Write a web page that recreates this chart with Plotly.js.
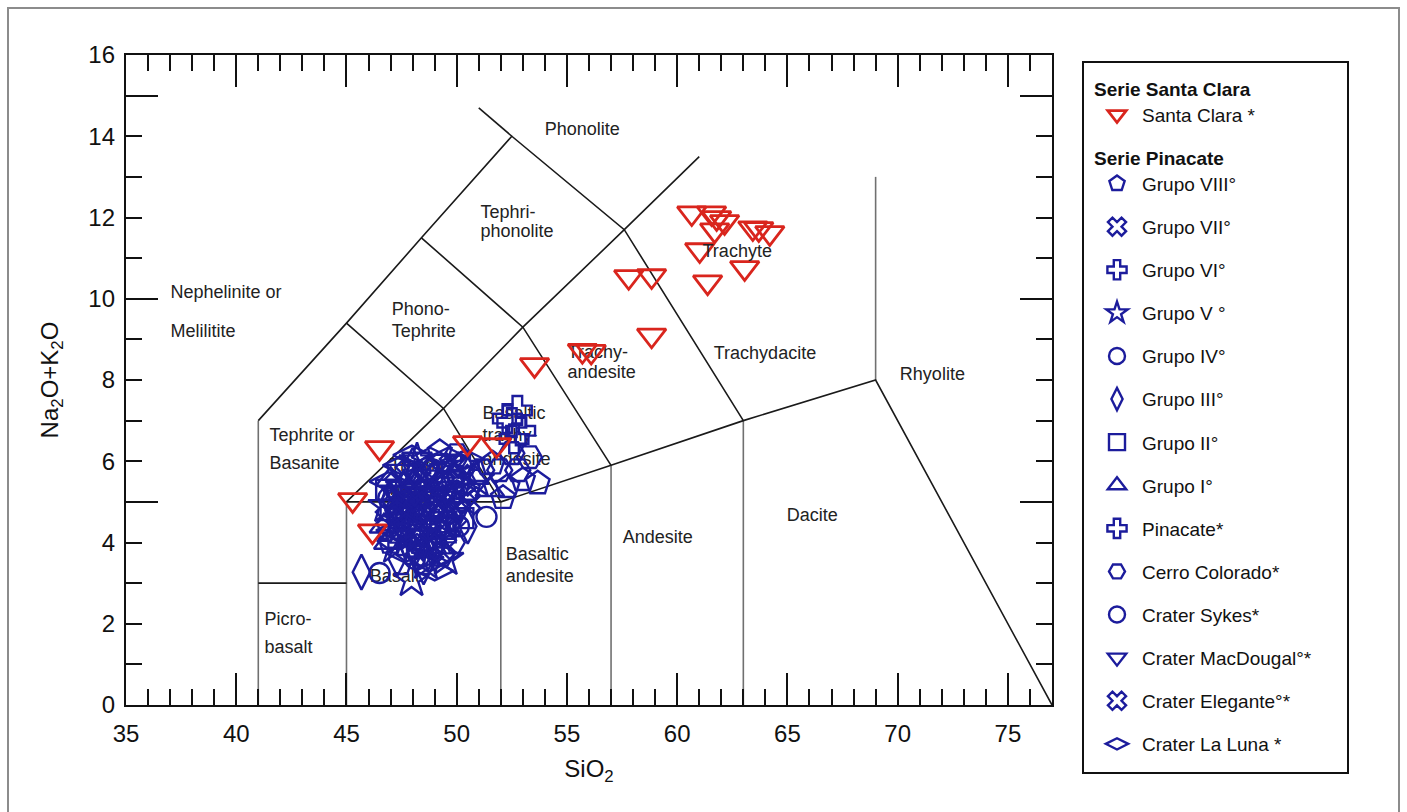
<!DOCTYPE html>
<html><head><meta charset="utf-8">
<script src="https://cdn.plot.ly/plotly-3.0.1.min.js"></script>
<style>
html,body{margin:0;padding:0;background:#fff;}
#chart{width:1407px;height:812px;}
#frame{position:absolute;left:7px;top:7px;width:1393px;height:808px;border:2px solid #8c8c8c;border-bottom:none;box-sizing:border-box;pointer-events:none;}
</style>
</head><body>
<div id="chart"></div><div id="frame"></div>
<script>
// ---- TAS field boundaries (SiO2, Na2O+K2O), null separates segments ----
const darkBoundX = [41,45,48.4,52.5,57.6,63, null, 52.5,51.0, null, 41,45, null, 45,49.4,52, null, 48.4,53,57, null,
                    45,49.4,53,57.6,61, null, 52,57,63,69,77, null, 45,52];
const darkBoundY = [7,9.4,11.5,14,11.7,7, null, 14,14.7, null, 3,3, null, 9.4,7.3,5, null, 11.5,9.3,5.9, null,
                    5,7.3,9.3,11.7,13.5, null, 5,5.9,7,8,0, null, 5,5];
const greyBoundX = [41,41, null, 45,45, null, 52,52, null, 57,57, null, 63,63, null, 69,69];
const greyBoundY = [0,7, null, 0,5, null, 0,5, null, 0,5.9, null, 0,7, null, 8,13];

// ---- field names ----
const fieldText = ["Nephelinite or","Melilitite","Phonolite","Tephri-","phonolite","Phono-","Tephrite",
  "Trachy-","andesite","Trachydacite","Rhyolite","Tephrite or","Basanite","Basaltic","trachy-","andesite",
  "Trachy-","basalt","Dacite","Andesite","Basaltic","andesite","Picro-","basalt","Basalt"];
const fieldX = [37.02,37.02,53.99,51.08,51.08,47.05,47.05,55.03,55.03,61.66,70.10,41.51,41.51,51.17,51.17,51.17,
  46.96,46.96,64.97,57.53,52.22,52.22,41.28,41.28,46.05];
const fieldY = [10.14,9.16,14.13,12.11,11.64,9.70,9.16,8.66,8.17,8.64,8.12,6.60,5.91,7.16,6.60,6.03,
  5.86,5.29,4.63,4.11,3.67,3.15,2.07,1.40,3.13];
const topFieldText = ["Trachyte"];
const topFieldX = [61.15];
const topFieldY = [11.15];

// ---- Serie Santa Clara ----
const santaClaraSiO2 = [45.28,46.5,46.18,50.49,51.81,53.53,55.7,56.1,58.84,57.8,58.84,
  60.66,61.56,61.79,62.15,61.7,63.43,64.2,63.7,61.02,61.38,63.06];
const santaClaraAlk  = [5.05,6.33,4.28,6.45,6.40,8.37,8.72,8.70,9.10,10.54,10.56,
  12.11,12.11,11.99,11.89,11.69,11.74,11.62,11.72,11.20,10.41,10.76];

// ---- Serie Pinacate ----
const g8SiO2 = [52.3,53.67,53.0,51.63,49.23,50.5,49.6,48.2,47.3,48.6,52.1,50.0,48.9,47.7,47.0,49.9];
const g8Alk  = [5.37,5.46,5.54,5.95,6.23,5.3,4.4,3.9,4.7,5.8,5.1,4.9,4.8,4.4,4.0,5.6];
const g7SiO2 = [47.4,48.4,49.3,47.8,50.2,46.9,48.9,49.8,48.0,49.6,47.3,48.7,50.3];
const g7Alk  = [5.0,5.4,4.9,5.7,5.6,4.6,4.3,5.9,4.6,4.4,5.4,3.9,5.2];
const g6SiO2 = [47.6,48.1,49.0,47.1,49.7,48.6,50.4,48.4,49.3,47.9,50.0];
const g6Alk  = [4.6,5.0,5.6,4.2,5.1,4.7,5.9,5.2,4.2,3.8,4.9];
const g5SiO2 = [47.95,47.2,48.3,49.2,47.6,50.9,46.8,49.5,48.6,47.3,49.0,48.2];
const g5Alk  = [3.08,3.9,4.2,4.6,5.35,5.54,4.9,3.6,3.5,4.5,5.2,6.0];
const g4SiO2 = [51.35,48.0,47.4,49.4,48.7,50.1,47.7,48.9,46.9,50.2];
const g4Alk  = [4.63,4.8,4.3,5.5,5.0,4.4,4.9,5.8,5.1,5.9];
const g3SiO2 = [45.68,48.7,49.1,47.9,48.3,49.8,47.0,48.5,48.0,49.5,47.3,50.5];
const g3Alk  = [3.27,3.75,4.0,4.55,5.5,4.7,5.05,3.4,5.9,5.3,3.6,4.4];
const g2SiO2 = [48.2,47.4,48.8,49.5,47.9,50.3,46.8,48.5,49.1,47.6,47.0,49.8];
const g2Alk  = [4.05,4.6,4.4,4.25,5.2,4.6,5.3,4.9,4.5,5.0,4.8,5.5];
const g1SiO2 = [47.0,48.4,49.7,48.9,47.6,50.8,51.5,46.7,48.1,49.4,48.6,46.9];
const g1Alk  = [5.55,4.6,5.75,5.3,4.15,5.6,5.3,4.4,5.5,4.8,3.9,4.0];
const pinacateSiO2 = [52.75,52.5,52.3,52.9,52.6];
const pinacateAlk  = [7.25,6.95,7.05,6.75,6.55];
const cerroSiO2 = [52.77,51.95,51.13,50.0,53.3,52.5,48.9,49.3,49.8,48.3];
const cerroAlk  = [5.78,5.78,5.78,6.15,6.1,6.2,3.9,3.7,4.0,3.7];
const sykesSiO2 = [46.5,48.1,47.3,49.9];
const sykesAlk  = [3.25,3.6,4.85,5.2];
const macdougalSiO2 = [48.77,48.09,48.77,47.5,49.4,48.2];
const macdougalAlk  = [5.61,5.22,5.17,5.75,6.0,6.05];
const eleganteSiO2 = [47.9,48.5,47.2,49.1,48.0,50.5,48.6,49.9,47.6,49.4,48.3];
const eleganteAlk  = [4.9,4.1,5.15,5.1,4.35,5.0,5.6,4.7,4.8,3.9,4.8];
const lunaSiO2 = [47.97,49.6,47.5,50.4,48.77,47.64,46.9,49.3,48.8,49.0,47.2,50.0];
const lunaAlk  = [6.15,6.1,5.9,6.05,3.52,3.74,5.5,3.7,6.1,3.3,4.3,5.3];

const pinacateNames = ["Grupo VIII°","Grupo VII°","Grupo VI°","Grupo V °","Grupo IV°","Grupo III°","Grupo II°","Grupo I°",
  "Pinacate*","Cerro Colorado*","Crater Sykes*","Crater MacDougal°*","Crater Elegante°*","Crater La Luna *"];
const pinacateX = [g8SiO2,g7SiO2,g6SiO2,g5SiO2,g4SiO2,g3SiO2,g2SiO2,g1SiO2,pinacateSiO2,cerroSiO2,sykesSiO2,macdougalSiO2,eleganteSiO2,lunaSiO2];
const pinacateY = [g8Alk,g7Alk,g6Alk,g5Alk,g4Alk,g3Alk,g2Alk,g1Alk,pinacateAlk,cerroAlk,sykesAlk,macdougalAlk,eleganteAlk,lunaAlk];
const pinacateSymbols = ["pentagon","x","cross","star","circle","diamond-tall","square","triangle-up",
  "cross","hexagon2","circle","triangle-down","x","diamond-wide"];
const pinacateSizes = [25,22,22,27,20,25,20,25,24,25,20,26,22,27];
const drawOrder = [13,12,10,9,8,7,6,5,4,3,2,1,0,11];

const BLUE = "#1c1c9c", RED = "#d9251d";
const FONT = "Liberation Sans, Arial, sans-serif";
const CLEAR = "rgba(255,255,255,0)";

const data = [];
data.push({x: greyBoundX, y: greyBoundY, mode: "lines", line: {color: "#707070", width: 1.6},
  showlegend: false, hoverinfo: "skip"});
data.push({x: darkBoundX, y: darkBoundY, mode: "lines", line: {color: "#1a1a1a", width: 1.6},
  showlegend: false, hoverinfo: "skip"});
data.push({x: fieldX, y: fieldY, text: fieldText, mode: "text", textposition: "middle right",
  textfont: {family: FONT, size: 18, color: "#222"}, showlegend: false, hoverinfo: "skip"});

drawOrder.forEach(function(i) {
  data.push({
    x: pinacateX[i], y: pinacateY[i], mode: "markers", name: pinacateNames[i],
    legend: "legend2", legendgroup: "p" + i, legendrank: i + 1,
    marker: {symbol: pinacateSymbols[i], size: pinacateSizes[i], color: CLEAR,
      line: {color: BLUE, width: 2.4}}
  });
});
data.push({x: santaClaraSiO2, y: santaClaraAlk, mode: "markers", name: "Santa Clara *",
  legend: "legend",
  marker: {symbol: "triangle-down", size: 25, color: CLEAR, line: {color: RED, width: 2.8}}});
data.push({x: topFieldX, y: topFieldY, text: topFieldText, mode: "text", textposition: "middle right",
  textfont: {family: FONT, size: 18, color: "#222"}, showlegend: false, hoverinfo: "skip"});
data.push({x: [null], y: [null], yaxis: "y2", mode: "markers", showlegend: false, hoverinfo: "skip"});

const yTickLabels = [0,2,4,6,8,10,12,14,16];

const pxToPaperX = function(px){ return (px - 126) / 926; };
const pxToPaperY = function(py){ return (705 - py) / 650; };

const layout = {
  width: 1407, height: 812,
  margin: {l: 126, r: 355, t: 55, b: 107},
  paper_bgcolor: "white", plot_bgcolor: "white",
  font: {family: FONT, color: "#111"},
  xaxis: {
    range: [35, 77], tickmode: "linear", tick0: 35, dtick: 5,
    ticks: "inside", ticklen: 32, tickwidth: 2, tickcolor: "#111",
    minor: {dtick: 1, ticks: "inside", ticklen: 16, tickwidth: 2, tickcolor: "#111", showgrid: false},
    showline: true, linecolor: "#111", linewidth: 2, mirror: "ticks",
    showgrid: false, zeroline: false,
    tickfont: {size: 24, color: "#111"}, ticklabelstandoff: 6,
    title: {text: "SiO<sub>2</sub>", font: {size: 24, color: "#111"}, standoff: 14}
  },
  yaxis: {
    range: [0, 16], tickmode: "linear", tick0: 0, dtick: 5,
    ticks: "inside", ticklen: 32, tickwidth: 2, tickcolor: "#111",
    minor: {dtick: 1, ticks: "inside", ticklen: 16, tickwidth: 2, tickcolor: "#111", showgrid: false},
    showline: true, linecolor: "#111", linewidth: 2, mirror: "ticks",
    showgrid: false, zeroline: false, showticklabels: false
  },
  yaxis2: {
    overlaying: "y", side: "left", range: [0, 16], tickmode: "array", tickvals: yTickLabels,
    ticks: "", showline: false, showgrid: false, zeroline: false,
    tickfont: {size: 24, color: "#111"}, ticklabelstandoff: 10,
    title: {text: "Na<sub>2</sub>O+K<sub>2</sub>O", font: {size: 24, color: "#111"}, standoff: 22}
  },
  legend: {
    x: pxToPaperX(1092), y: pxToPaperY(71), xanchor: "left", yanchor: "top",
    bgcolor: "rgba(0,0,0,0)", borderwidth: 0,
    title: {text: "<b>Serie Santa Clara</b>", font: {size: 19, color: "#111"}},
    font: {size: 19, color: "#111"}, itemwidth: 40
  },
  legend2: {
    x: pxToPaperX(1092), y: pxToPaperY(140), xanchor: "left", yanchor: "top",
    bgcolor: "rgba(0,0,0,0)", borderwidth: 0, traceorder: "grouped", tracegroupgap: 15.4,
    title: {text: "<b>Serie Pinacate</b>", font: {size: 19, color: "#111"}},
    font: {size: 19, color: "#111"}, itemwidth: 40
  },
  shapes: [{type: "rect", xref: "paper", yref: "paper",
    x0: pxToPaperX(1083), x1: pxToPaperX(1348), y0: pxToPaperY(773), y1: pxToPaperY(62),
    line: {color: "#111", width: 2}, fillcolor: "rgba(0,0,0,0)"}],
  showlegend: true
};

Plotly.newPlot("chart", data, layout, {displayModeBar: false, staticPlot: true});
</script>
</body></html>
